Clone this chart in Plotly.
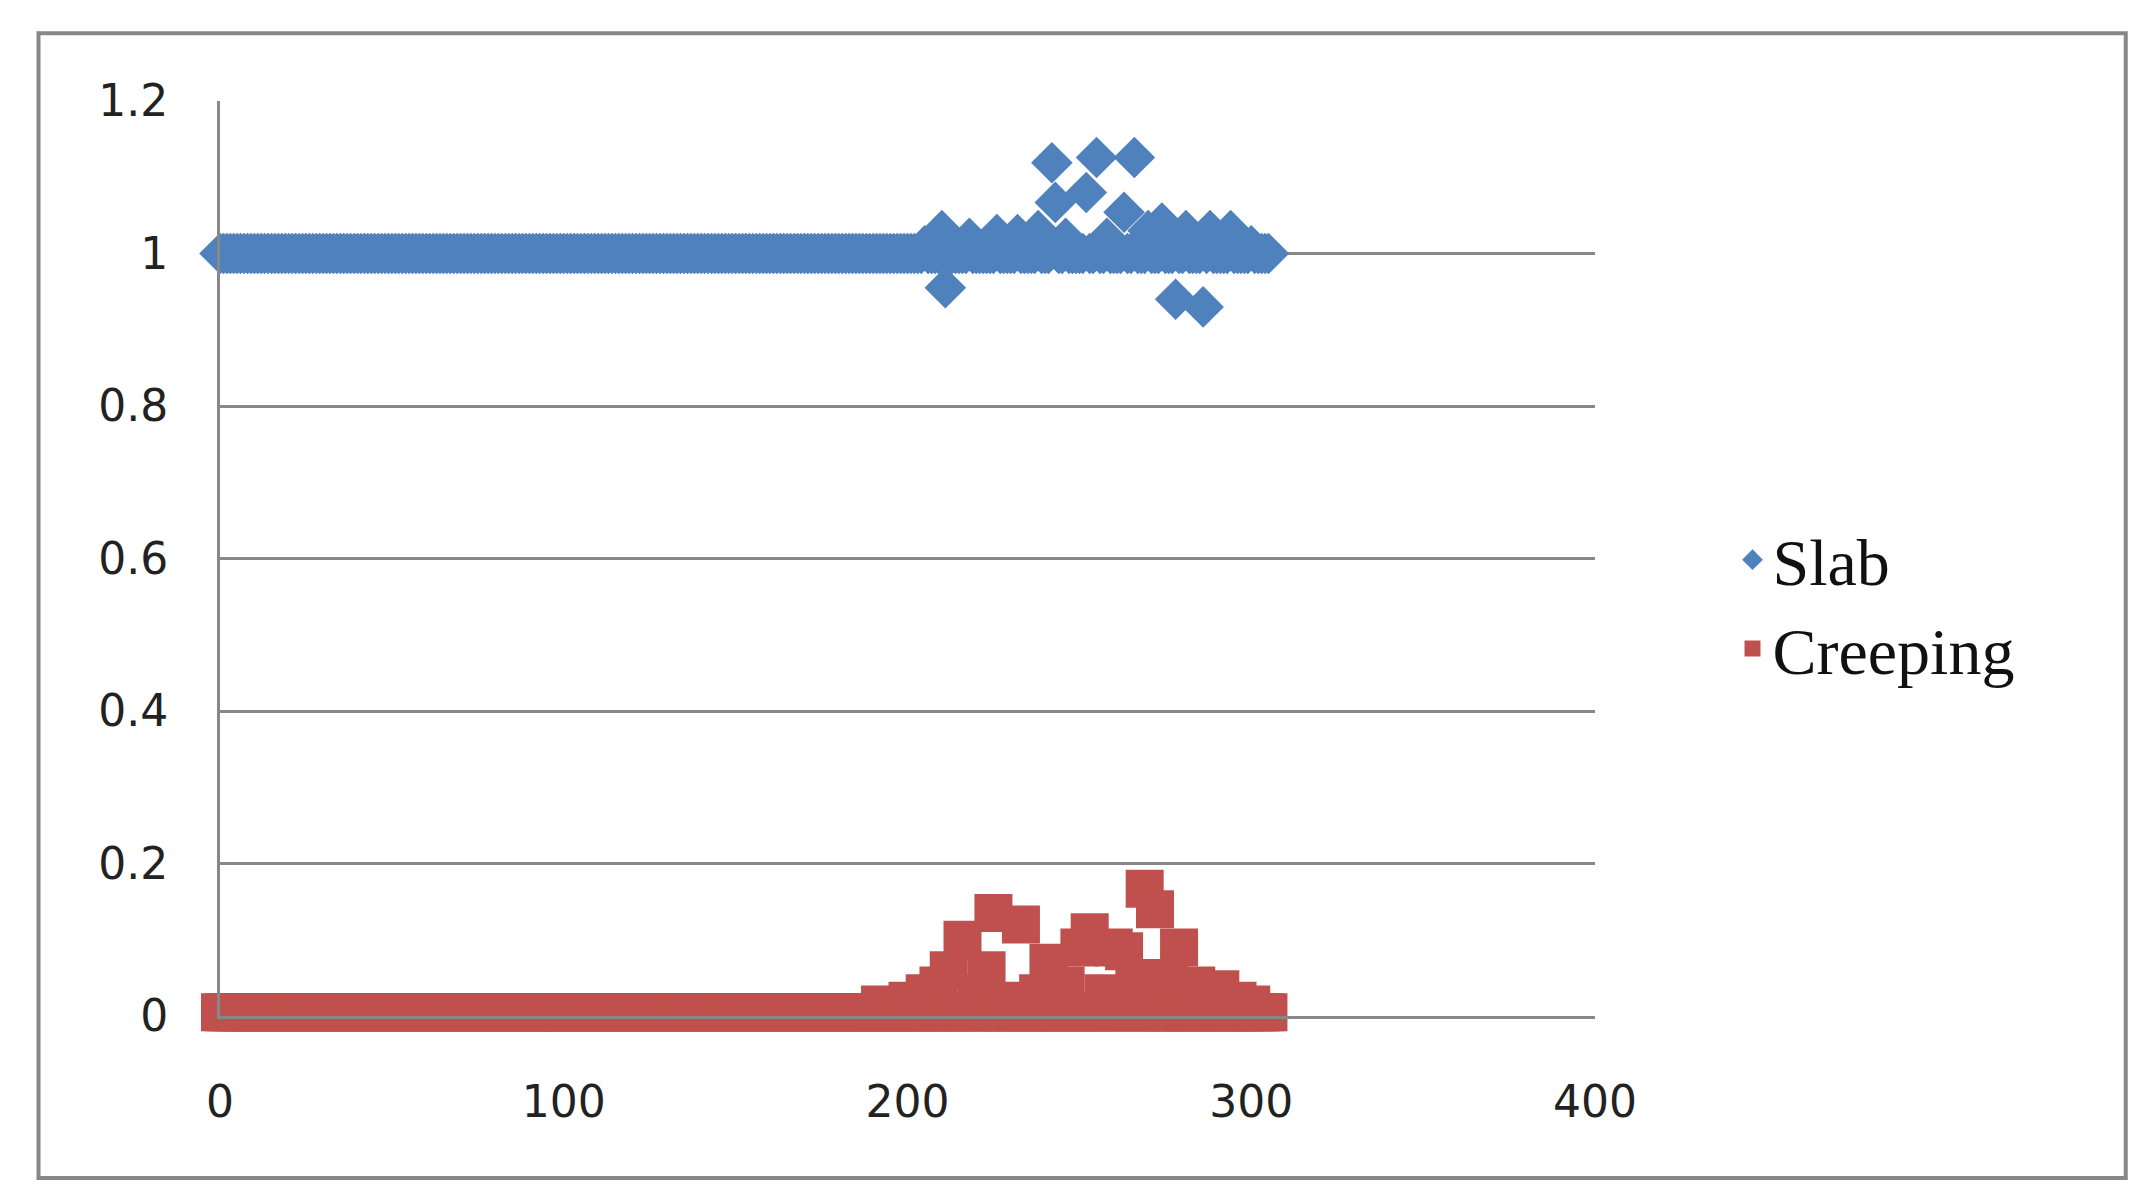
import plotly.graph_objects as go

x_vals = list(range(0, 306))
# Slab: baseline 1, with read-off deviations
slab_dev_x = [205, 210, 211, 218, 226, 232, 238, 242, 243, 246, 252, 255, 258, 263, 266, 270, 274, 278, 281, 286, 288, 294, 300]
slab_dev_y = [1.01, 1.03, 0.955, 1.02, 1.025, 1.025, 1.03, 1.119, 1.067, 1.02, 1.08, 1.126, 1.02, 1.054, 1.126, 1.03, 1.04, 0.94, 1.03, 0.93, 1.03, 1.03, 1.01]
# Creeping: baseline ~0.005, with read-off deviations
creep_dev_x = [192, 200, 205, 209, 212, 216, 220, 223, 225, 230, 233, 238, 241, 246, 250, 253, 257, 260, 263, 266, 269, 272, 276, 279, 284, 288, 291, 296, 300]
creep_dev_y = [0.015, 0.02, 0.03, 0.04, 0.06, 0.1, 0.03, 0.06, 0.135, 0.02, 0.12, 0.03, 0.07, 0.04, 0.09, 0.11, 0.03, 0.09, 0.085, 0.05, 0.167, 0.14, 0.05, 0.09, 0.04, 0.03, 0.035, 0.02, 0.015]
y_tickvals = [0, 0.2, 0.4, 0.6, 0.8, 1.0, 1.2]
y_ticktext = ["0", "0.2", "0.4", "0.6", "0.8", "1", "1.2"]

slab_y = [1.0] * len(x_vals)
for xv, yv in zip(slab_dev_x, slab_dev_y):
    slab_y[xv] = yv
creep_y = [0.005] * len(x_vals)
for xv, yv in zip(creep_dev_x, creep_dev_y):
    creep_y[xv] = yv

fig = go.Figure()
fig.add_trace(go.Scatter(x=x_vals, y=slab_y, mode="markers", name="Slab", cliponaxis=False,
                         marker=dict(symbol="diamond", size=32, color="#4F81BD")))
fig.add_trace(go.Scatter(x=x_vals, y=creep_y, mode="markers", name="Creeping", cliponaxis=False,
                         marker=dict(symbol="square", size=38, color="#C0504D")))

fig.update_layout(
    width=2145, height=1200, plot_bgcolor="white", paper_bgcolor="white",
    margin=dict(l=212, r=558, t=93, b=192),
    font=dict(family="DejaVu Sans", size=44, color="#222"),
    legend=dict(x=1.1, y=0.45, yanchor="middle", xanchor="left",
                font=dict(family="Liberation Serif", size=66, color="#111")),
    shapes=[dict(type="rect", xref="paper", yref="paper", x0=-0.132, x1=1.386, y0=-0.177, y1=1.074,
                 line=dict(color="#888", width=4), layer="below")],
)
fig.update_xaxes(range=[0, 400], dtick=100, showgrid=False, zeroline=False, automargin=False,
                 showline=True, linecolor="#888", linewidth=3, ticks="outside", ticklen=0,
                 ticklabelstandoff=45)
fig.update_yaxes(range=[0, 1.2], tickvals=y_tickvals, ticktext=y_ticktext, automargin=False,
                 showgrid=True, gridcolor="#888", gridwidth=3,
                 zeroline=False, showline=True, linecolor="#888", linewidth=3,
                 ticklabelstandoff=40)
fig.write_html("out.html")
